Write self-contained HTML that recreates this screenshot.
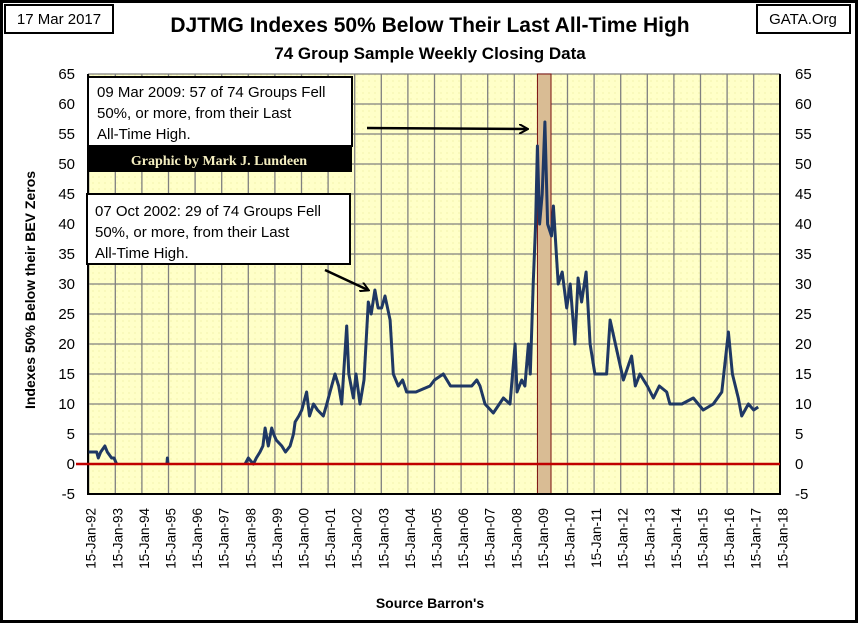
<!DOCTYPE html>
<html><head><meta charset="utf-8"><style>
body{margin:0;background:#fff;}
svg text{font-family:"Liberation Sans",sans-serif;}
</style></head><body>
<svg id="chart" width="858" height="623" viewBox="0 0 858 623" xmlns="http://www.w3.org/2000/svg">
<defs>
<pattern id="dots" width="6" height="6" patternUnits="userSpaceOnUse"><rect width="6" height="6" fill="#ffffc8"/><circle cx="3" cy="3" r="0.6" fill="#ecec9c"/></pattern>
<marker id="ah" markerWidth="10" markerHeight="10" refX="8" refY="5" orient="auto" markerUnits="userSpaceOnUse"><path d="M0,0 L9,5 L0,10" fill="none" stroke="#000" stroke-width="2"/></marker>
</defs>
<rect x="1.5" y="1.5" width="855" height="620" fill="#fff" stroke="#000" stroke-width="3"/>
<rect x="88" y="74" width="692" height="420" fill="url(#dots)"/>
<g id="grid"></g>
<rect id="band" fill="#d9bc94" stroke="#7a1010" stroke-width="1"/>
<g id="axes"></g>
<path id="series" fill="none" stroke="#1f3864" stroke-width="3" stroke-linejoin="round"/>
<line id="zero" stroke="#c00000" stroke-width="2.5"/>
<rect x="5" y="5" width="108" height="28" fill="#fff" stroke="#000" stroke-width="2"/>
<text x="59" y="24" font-size="15" text-anchor="middle">17 Mar 2017</text>
<rect x="757" y="5" width="93" height="28" fill="#fff" stroke="#000" stroke-width="2"/>
<text x="803" y="24" font-size="15" text-anchor="middle">GATA.Org</text>
<text x="430" y="32" font-size="21" font-weight="bold" text-anchor="middle">DJTMG Indexes 50% Below Their Last All-Time High</text>
<text x="430" y="59" font-size="17" font-weight="bold" text-anchor="middle">74 Group Sample Weekly Closing Data</text>
<text transform="translate(35,290) rotate(-90)" font-size="14" font-weight="bold" text-anchor="middle">Indexes 50% Below  their BEV Zeros</text>
<text x="430" y="608" font-size="14" font-weight="bold" text-anchor="middle">Source Barron's</text>
<rect x="88" y="77" width="264" height="69" fill="#fff" stroke="#000" stroke-width="2"/>
<text font-size="15"><tspan x="97" y="97">09 Mar 2009: 57 of 74 Groups Fell</tspan><tspan x="97" y="118">50%, or more, from their Last</tspan><tspan x="97" y="139">All-Time High.</tspan></text>
<rect x="87" y="147" width="265" height="25" fill="#000"/>
<text x="219" y="165" font-size="14" font-weight="bold" fill="#f4eec0" text-anchor="middle" style="font-family:'Liberation Serif',serif">Graphic by Mark J. Lundeen</text>
<rect x="87" y="194" width="263" height="70" fill="#fff" stroke="#000" stroke-width="2"/>
<text font-size="15"><tspan x="95" y="216">07 Oct 2002: 29 of 74 Groups Fell</tspan><tspan x="95" y="237">50%, or more, from their Last</tspan><tspan x="95" y="258">All-Time High.</tspan></text>
<line x1="325" y1="270" x2="368" y2="290" stroke="#000" stroke-width="2.5" marker-end="url(#ah)"/>
<line x1="367" y1="128" x2="527" y2="129" stroke="#000" stroke-width="2.5" marker-end="url(#ah)"/>
</svg>
<script>
const years = [1992.0,1992.3,1992.36,1992.45,1992.61,1992.7,1992.86,1992.95,1993.05,null,1994.94,1994.96,1994.98,null,1997.88,1998.0,1998.19,1998.3,1998.44,1998.55,1998.63,1998.75,1998.88,1998.95,1999.05,1999.26,1999.4,1999.57,1999.7,1999.76,1999.9,2000.01,2000.19,2000.3,2000.45,2000.6,2000.82,2000.95,2001.07,2001.26,2001.4,2001.51,2001.7,2001.78,2001.95,2002.05,2002.2,2002.35,2002.51,2002.62,2002.76,2002.88,2003.01,2003.14,2003.33,2003.45,2003.64,2003.8,2003.95,2004.3,2004.83,2005.0,2005.33,2005.6,2006.0,2006.4,2006.59,2006.71,2006.9,2007.21,2007.59,2007.84,2008.03,2008.1,2008.28,2008.4,2008.53,2008.6,2008.71,2008.8,2008.87,2008.95,2009.05,2009.15,2009.25,2009.4,2009.47,2009.65,2009.8,2009.97,2010.1,2010.28,2010.4,2010.53,2010.7,2010.85,2011.03,2011.47,2011.6,2011.8,2012.1,2012.41,2012.55,2012.72,2013.0,2013.23,2013.45,2013.73,2013.85,2014.3,2014.73,2015.1,2015.48,2015.8,2016.05,2016.2,2016.42,2016.55,2016.8,2017.0,2017.17];
const values = [2,2,1,2,3,2,1,1,0,null,0,1,0,null,0,1,0,1,2,3,6,3,6,5,4,3,2,3,5,7,8,9,12,8,10,9,8,10,12,15,13,10,23,15,11,15,10,14,27,25,29,26,26,28,24,15,13,14,12,12,13,14,15,13,13,13,14,13,10,8.5,11,10,20,12,14,13,20,15,30,40,53,40,45,57,40,38,43,30,32,26,30,20,31,27,32,20,15,15,24,20,14,18,13,15,13,11,13,12,10,10,11,9,10,12,22,15,11,8,10,9,9.5];
const yTicks = [-5,0,5,10,15,20,25,30,35,40,45,50,55,60,65];
const xTickYears = [1992,1993,1994,1995,1996,1997,1998,1999,2000,2001,2002,2003,2004,2005,2006,2007,2008,2009,2010,2011,2012,2013,2014,2015,2016,2017,2018];
const bandYears = [2008.87,2009.38];

const NS="http://www.w3.org/2000/svg";
const X0=88.7,PXY=26.6,Y0=464,PXV=6;
function xs(y){return X0+(y-1992)*PXY;}
function ys(v){return Y0-v*PXV;}
const grid=document.getElementById('grid'),axes=document.getElementById('axes');
function mk(tag,attrs,parent){const e=document.createElementNS(NS,tag);for(const k in attrs)e.setAttribute(k,attrs[k]);parent.appendChild(e);return e;}
yTicks.forEach(v=>{
  const l=mk('line',{x1:88,x2:780,y1:ys(v),y2:ys(v),stroke:'#808080','stroke-width':1.3},grid);
  
  
  const t1=mk('text',{x:75,y:ys(v)+5,'font-size':15,'text-anchor':'end'},axes);t1.textContent=v;
  
  
  const t2=mk('text',{x:795,y:ys(v)+5,'font-size':15},axes);t2.textContent=v;
  
  
});
xTickYears.forEach(y=>{
  const l=mk('line',{x1:xs(y),x2:xs(y),y1:74,y2:494,stroke:'#808080','stroke-width':1.3},grid);
  
  
  const t=mk('text',{'font-size':13.5,'text-anchor':'end',transform:`translate(${xs(y)+7},508) rotate(-90)`},axes);
  t.textContent='15-Jan-'+String(y).slice(2);
  
  
});
mk('line',{x1:88,x2:88,y1:74,y2:495,stroke:'#000','stroke-width':2},axes);
mk('line',{x1:780,x2:780,y1:74,y2:495,stroke:'#000','stroke-width':2},axes);
mk('line',{x1:87,x2:781,y1:494,y2:494,stroke:'#000','stroke-width':2},axes);
const band=document.getElementById('band');
band.setAttribute('x',xs(bandYears[0]));band.setAttribute('width',xs(bandYears[1])-xs(bandYears[0]));
band.setAttribute('y',74);band.setAttribute('height',420);
const z=document.getElementById('zero');
z.setAttribute('x1',76);z.setAttribute('x2',780);z.setAttribute('y1',ys(0));z.setAttribute('y2',ys(0));
let d='',pen=false;
for(let i=0;i<years.length;i++){
  if(years[i]===null||values[i]===null){pen=false;continue;}
  d+=(pen?'L':'M')+xs(years[i]).toFixed(1)+','+ys(values[i]).toFixed(1);pen=true;
}
document.getElementById('series').setAttribute('d',d);
</script>
</body></html>
